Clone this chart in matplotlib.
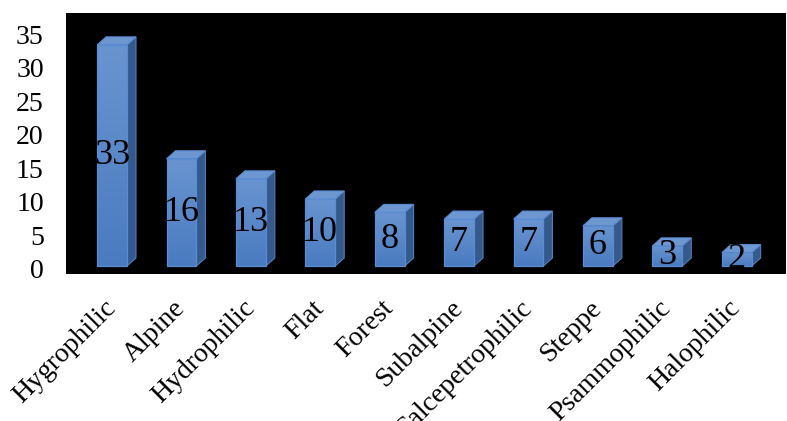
import numpy as np
import matplotlib
matplotlib.use("Agg")
import matplotlib.pyplot as plt
from matplotlib.patches import Polygon, Rectangle
from matplotlib.colors import LinearSegmentedColormap
import matplotlib.transforms as mtransforms

categories = ["Hygrophilic", "Alpine", "Hydrophilic", "Flat", "Forest",
              "Subalpine", "Calcepetrophilic", "Steppe", "Psammophilic", "Halophilic"]
values = [33, 16, 13, 10, 8, 7, 7, 6, 3, 2]
yticks = [0, 5, 10, 15, 20, 25, 30, 35]

W, H = 787, 421
fig = plt.figure(figsize=(W / 100, H / 100), dpi=100)
ax = fig.add_axes([66 / W, (H - 274) / H, 720 / W, 261 / H])
ax.set_facecolor("black")

serif = "Liberation Serif"
bar_w = 0.43
dx, dy = 0.13, 1.2

front_cmap = LinearSegmentedColormap.from_list("front", ["#4A7BC0", "#6994D0"])
grad = np.linspace(0, 1, 256).reshape(-1, 1)

x = np.arange(len(categories))
for xi, v in zip(x, values):
    l, r = xi - bar_w / 2, xi + bar_w / 2
    # side face
    ax.add_patch(Polygon([(r, 0), (r + dx, dy), (r + dx, v + dy), (r, v)],
                         closed=True, facecolor="#34598A", edgecolor="#4F7FC0",
                         linewidth=0.8, zorder=2))
    # top face
    ax.add_patch(Polygon([(l, v), (l + dx, v + dy), (r + dx, v + dy), (r, v)],
                         closed=True, facecolor="#6D97D1", edgecolor="#5A8AD0",
                         linewidth=0.8, zorder=2))
    # front face, lighter towards the top
    rect = Rectangle((l, 0), bar_w, v, facecolor="none", edgecolor="#5B8BD3",
                     linewidth=0.9, zorder=4)
    ax.add_patch(rect)
    im = ax.imshow(grad, cmap=front_cmap, extent=(l, r, 0, v), aspect="auto",
                   origin="lower", zorder=3)
    im.set_clip_path(rect)
    ax.text(xi, v / 2, str(v), ha="center", va="center", fontsize=26,
            family=serif, color="black", zorder=5)

ax.set_xlim(-0.663, 9.71)
ax.set_ylim(-1.19, 37.76)
ax.set_yticks(yticks)
ax.set_yticklabels([str(t) for t in yticks], family=serif, fontsize=20)
ax.set_xticks(x)
ax.set_xticklabels(categories, family=serif, fontsize=20, rotation=45,
                   ha="right", va="center", rotation_mode="anchor")
ax.tick_params(axis="y", length=0, pad=16)
ax.tick_params(axis="x", length=0, pad=22)
shift = mtransforms.ScaledTranslation(0, -2 / 72, fig.dpi_scale_trans)
for lab in ax.get_yticklabels():
    lab.set_transform(lab.get_transform() + shift)
for s in ax.spines.values():
    s.set_visible(False)

fig.savefig("out.png", dpi=100, facecolor="white")
